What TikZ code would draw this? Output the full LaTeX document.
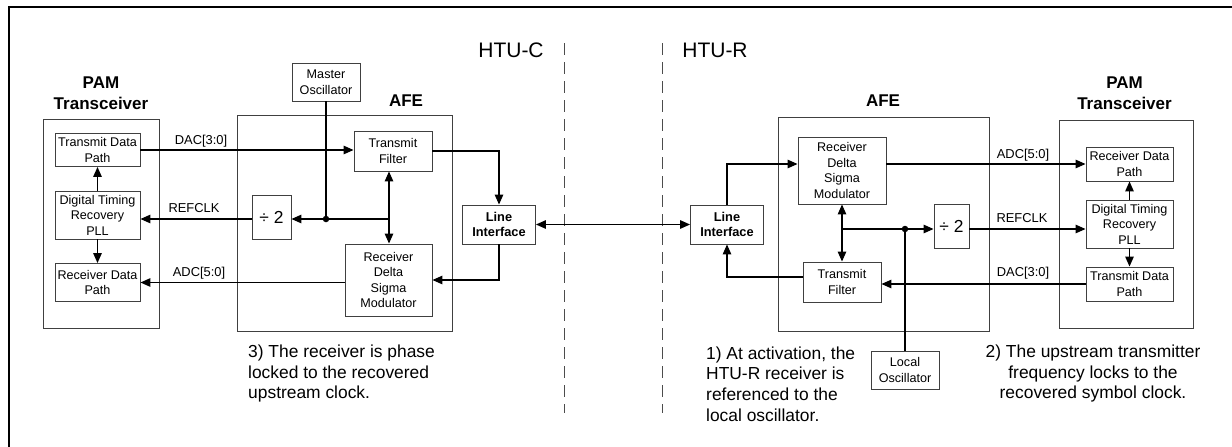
\documentclass[tikz,border=0pt]{standalone}
\usepackage{fontspec}
\setmainfont{Liberation Sans}
\usetikzlibrary{arrows.meta}
\tikzset{
  box/.style={draw=black!75, line width=0.9pt, inner sep=0pt, align=center,
    font=\fontsize{12.6}{15.5}\selectfont},
  bigbox/.style={draw=black!75, line width=0.9pt, inner sep=0pt},
  libox/.style={draw=black!75, line width=0.9pt, inner sep=0pt, align=center,
    font=\fontsize{12.8}{14.5}\selectfont\bfseries},
  title/.style={align=center, inner sep=0pt, font=\fontsize{17}{21}\selectfont\bfseries},
  sig/.style={inner sep=0pt, font=\fontsize{12.9}{15}\selectfont},
  note/.style={inner sep=0pt, font=\fontsize{17.4}{20.7}\selectfont},
  conn/.style={line width=1.3pt, black},
  arr/.style={conn, -{Triangle[length=10pt,width=8.5pt]}},
  darr/.style={conn, {Triangle[length=10pt,width=8.5pt]}-{Triangle[length=10pt,width=8.5pt]}},
  dot/.style={circle, fill=black, inner sep=0pt, minimum size=6.5pt},
}
\begin{document}
\begin{tikzpicture}[x=1pt, y=-1pt]
\useasboundingbox (0,0) rectangle (1232,447);
% frame
\draw[line width=2.2pt] (9,447) -- (9,7.3) -- (1232,7.3);

% dashed separators
\draw[black!70, line width=0.9pt, dash pattern=on 12pt off 7pt] (564,43) -- (564,413);
\draw[black!70, line width=0.9pt, dash pattern=on 12pt off 7pt] (662,43) -- (662,413);
\node[inner sep=0pt, font=\fontsize{21}{24}\selectfont] (htuc) at (511,50) {HTU-C};
\node[inner sep=0pt, font=\fontsize{21}{24}\selectfont] (htur) at (715,50) {HTU-R};

% ===== left side =====
\node[bigbox, minimum width=116pt, minimum height=209pt] (pamL) at (101,223.5) {};
\node[title] (pamLt) at (101,93.5) {PAM\\Transceiver};
\node[box, minimum width=85pt, minimum height=33pt] (tdpL) at (97.5,150) {Transmit Data\\Path};
\node[box, minimum width=85pt, minimum height=48pt] (dtrL) at (97.5,215) {Digital Timing\\Recovery\\PLL};
\node[box, minimum width=85pt, minimum height=38pt] (rdpL) at (97.5,282.5) {Receiver Data\\Path};

\node[bigbox, minimum width=215pt, minimum height=216pt] (afeL) at (344.5,223) {};
\node[title] (afeLt) at (406,101) {AFE};
\node[box, minimum width=68pt, minimum height=38pt] (moL) at (326,82) {Master\\Oscillator};
\node[box, minimum width=78pt, minimum height=40pt] (tfL) at (393,151) {Transmit\\Filter};
\node[box, minimum width=39pt, minimum height=44pt, font=\fontsize{17.4}{20}\selectfont] (divL) at (271.5,217) {÷ 2};
\node[box, minimum width=87pt, minimum height=72pt] (rdsmL) at (388.5,280) {Receiver\\Delta\\Sigma\\Modulator};
\node[libox, minimum width=73pt, minimum height=39pt] (liL) at (499,224.5) {Line\\Interface};

\coordinate (jL) at (389,219);
\node[dot] (dotL) at (326,219) {};

\draw[arr] (dtrL.north) -- (tdpL.south);
\draw[arr] (dtrL.south) -- (rdpL.north);
\draw[arr] (tdpL.east) -- (tfL.west |- tdpL.east);
\draw[arr] (divL.west |- jL) -- (dtrL.east |- jL);
\draw[arr] (rdsmL.west |- rdpL.east) -- (rdpL.east);
\draw[darr] (tfL.south -| jL) -- (rdsmL.north -| jL);
\draw[arr] (jL) -- (divL.east |- jL);
\draw[conn] (moL.south) -- (dotL.center);
\draw[arr] (tfL.east) -| (liL.north);
\draw[arr] (liL.south) |- (rdsmL.east);

\node[sig] (dacL) at (201,141) {DAC[3:0]};
\node[sig] (refL) at (194,208.5) {REFCLK};
\node[sig] (adcL) at (199,273) {ADC[5:0]};

% ===== right side =====
\node[libox, minimum width=73pt, minimum height=39pt] (liR) at (727,224.5) {Line\\Interface};
\node[bigbox, minimum width=211pt, minimum height=214pt] (afeR) at (883.5,224) {};
\node[title] (afeRt) at (883,101) {AFE};
\node[box, minimum width=88pt, minimum height=67pt] (rdsmR) at (842,170.5) {Receiver\\Delta\\Sigma\\Modulator};
\node[box, minimum width=78pt, minimum height=40pt] (tfR) at (842,282) {Transmit\\Filter};
\node[box, minimum width=35pt, minimum height=44pt, font=\fontsize{17.4}{20}\selectfont] (divR) at (951.5,226) {÷ 2};
\node[box, minimum width=68pt, minimum height=38pt] (loR) at (905,370) {Local\\Oscillator};

\node[bigbox, minimum width=134pt, minimum height=208pt] (pamR) at (1126,224) {};
\node[title] (pamRt) at (1124.5,93.5) {PAM\\Transceiver};
\node[box, minimum width=87pt, minimum height=34pt] (rdpR) at (1129.5,164) {Receiver Data\\Path};
\node[box, minimum width=87pt, minimum height=48pt] (dtrR) at (1129.5,224) {Digital Timing\\Recovery\\PLL};
\node[box, minimum width=87pt, minimum height=34pt] (tdpR) at (1129.5,284) {Transmit Data\\Path};

\coordinate (jR) at (842,229);
\node[dot] (dotR) at (905,229) {};

\draw[darr] (liL.east) -- (liR.west);
\draw[arr] (liR.north) |- (rdsmR.west |- rdpR.west);
\draw[arr] ([yshift=5pt]tfR.west) -| (liR.south);
\draw[arr] (rdsmR.east |- rdpR.west) -- (rdpR.west);
\draw[darr] (rdsmR.south) -- (tfR.north);
\draw[arr] (jR) -- (divR.west |- jR);
\draw[conn] (loR.north) -- (dotR.center);
\draw[arr] (divR.east |- jR) -- (dtrR.west |- jR);
\draw[arr] (tdpR.west) -- (tfR.east |- tdpR.west);
\draw[arr] (dtrR.north) -- (rdpR.south);
\draw[arr] (dtrR.south) -- (tdpR.north);

\node[sig] (adcR) at (1023,155) {ADC[5:0]};
\node[sig] (refR) at (1022,218) {REFCLK};
\node[sig] (dacR) at (1023,273) {DAC[3:0]};

% notes
\node[note, align=left, anchor=west] (n3) at (248,373.5) {3) The receiver is phase\\locked to the recovered\\upstream clock.};
\node[note, align=left, anchor=west] (n1) at (706,384) {1) At activation, the\\HTU-R receiver is\\referenced to the\\local oscillator.};
\node[note, align=center] (n2) at (1093,373.5) {2) The upstream transmitter\\frequency locks to the\\recovered symbol clock.};
\end{tikzpicture}
\end{document}
